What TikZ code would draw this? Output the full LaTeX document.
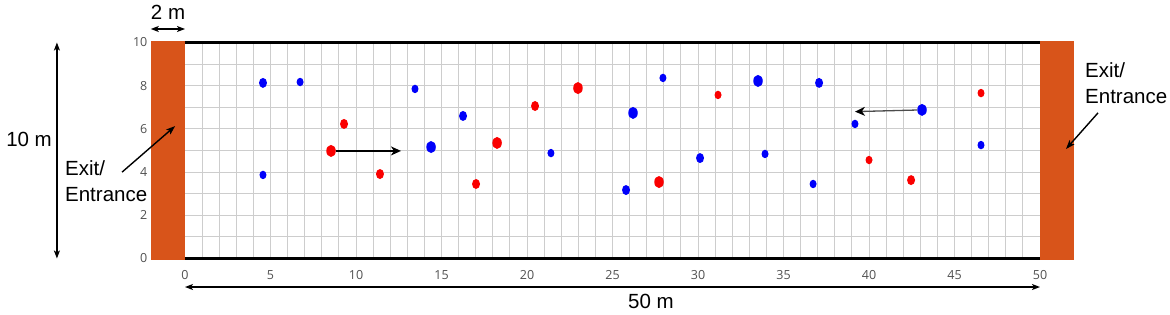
\documentclass[tikz,border=0pt]{standalone}
\usepackage{fontspec}
\setmainfont{Liberation Sans}
\newfontfamily\tickfont{Open Sans}
\usetikzlibrary{arrows.meta,shapes.geometric}
\definecolor{exitorange}{RGB}{216,84,26}
\definecolor{dotblue}{RGB}{0,0,250}
\definecolor{dotred}{RGB}{250,0,0}
\definecolor{gridgray}{RGB}{205,205,205}
\definecolor{ticklab}{RGB}{80,80,80}
\begin{document}
\begin{tikzpicture}[x=17.1pt,y=21.6pt,
  bdot/.style={ellipse,fill=dotblue,inner sep=0pt},
  rdot/.style={ellipse,fill=dotred,inner sep=0pt},
  sm/.style={minimum width=7pt,minimum height=8.5pt},
  md/.style={minimum width=8pt,minimum height=10pt},
  lg/.style={minimum width=9.5pt,minimum height=12pt},
  exitbar/.style={fill=exitorange,draw=none},
  border/.style={line width=3pt,black},
  ticky/.style={font=\tickfont\fontsize{12.5}{14}\selectfont,text=ticklab,inner sep=0pt},
  lbl/.style={font=\fontsize{20.5}{26}\selectfont,inner sep=0pt},
  dimarrow/.style={line width=1.4pt,{Stealth[length=8pt,width=6pt,inset=2pt]}-{Stealth[length=8pt,width=6pt,inset=2pt]}},
  ptarrow/.style={line width=1.4pt,-{Stealth[length=9pt,width=6.5pt,inset=2pt]}},
  movearrow/.style={line width=1.3pt,-{Stealth[length=10pt,width=9pt,inset=3pt]}},
  gmovearrow/.style={line width=1.3pt,draw=black!70,-{Stealth[length=10pt,width=9pt,inset=3pt,black]}}]
\useasboundingbox (-185pt,-55.5pt) rectangle (985pt,258.5pt);
% grid
\draw[gridgray,line width=1pt] (0,0) grid[xstep=1,ystep=1] (50,10);
% exits
\fill[exitbar] (-2,-0.05) rectangle (0,10.07);
\fill[exitbar] (50,-0.05) rectangle (52,10.07);
% borders
\draw[border] (0,10) -- (50,10);
\draw[border] (0,0) -- (50,0);
% tick labels
\foreach \v in {0,2,4,6,8,10}
  \node[ticky,anchor=east] (yt\v) at (-37.5pt,\v) {\v};
\foreach \v in {0,5,...,50}
  \node[ticky] (xt\v) at (\v,-0.78) {\v};
% dimensions
\coordinate (twoL) at (-2,10.625);
\coordinate (twoR) at (0,10.625);
\draw[dimarrow] (twoL) -- (twoR);
\node[lbl] (twom) at (-0.99,11.41) {2 m};
\coordinate (tenB) at (-7.49,0);
\coordinate (tenT) at (-7.49,10);
\draw[dimarrow] (tenB) -- (tenT);
\node[lbl] (tenm) at (-9.12,5.49) {10 m};
\coordinate (fiftyL) at (0,-1.32);
\coordinate (fiftyR) at (50,-1.32);
\draw[dimarrow] (fiftyL) -- (fiftyR);
\node[lbl] (fiftym) at (27.25,-1.97) {50 m};
% exit labels
\node[lbl,anchor=west,align=left] (exitL) at (-7.02,3.59) {Exit/\\Entrance};
\coordinate (exitLs) at (-3.68,4.0);
\coordinate (exitLe) at (-0.58,6.13);
\draw[ptarrow] (exitLs) -- (exitLe);
\node[lbl,anchor=west,align=left] (exitR) at (52.63,8.13) {Exit/\\Entrance};
\coordinate (exitRs) at (53.39,6.74);
\coordinate (exitRe) at (51.52,5.07);
\draw[ptarrow] (exitRs) -- (exitRe);
% blue pedestrians
\node[bdot,md] (b1) at (4.56,8.13) {};
\node[bdot,sm] (b2) at (6.73,8.17) {};
\node[bdot,sm] (b3) at (4.56,3.87) {};
\node[bdot,sm] (b4) at (13.45,7.85) {};
\node[bdot,md] (b5) at (16.26,6.60) {};
\node[bdot,lg] (b6) at (14.39,5.16) {};
\node[bdot,sm] (b7) at (21.40,4.88) {};
\node[bdot,sm] (b8) at (27.95,8.36) {};
\node[bdot,lg] (b9) at (26.20,6.74) {};
\node[bdot,md] (b10) at (25.79,3.17) {};
\node[bdot,md] (b11) at (30.12,4.65) {};
\node[bdot,lg] (b12) at (33.51,8.22) {};
\node[bdot,sm] (b13) at (33.92,4.84) {};
\node[bdot,md] (b14) at (37.08,8.13) {};
\node[bdot,sm] (b15) at (39.18,6.23) {};
\node[bdot,sm] (b16) at (36.73,3.45) {};
\node[bdot,lg] (b17) at (43.10,6.88) {};
\node[bdot,sm] (b18) at (46.55,5.25) {};
% red pedestrians
\node[rdot,md] (r1) at (9.30,6.23) {};
\node[rdot,lg] (r2) at (8.54,4.98) {};
\node[rdot,md] (r3) at (11.40,3.91) {};
\node[rdot,md] (r4) at (17.02,3.45) {};
\node[rdot,lg] (r5) at (18.25,5.35) {};
\node[rdot,md] (r6) at (20.47,7.06) {};
\node[rdot,lg] (r7) at (22.98,7.89) {};
\node[rdot,sm] (r8) at (31.17,7.57) {};
\node[rdot,lg] (r9) at (27.72,3.54) {};
\node[rdot,sm] (r10) at (40.00,4.56) {};
\node[rdot,sm] (r11) at (46.55,7.66) {};
\node[rdot,md] (r12) at (42.46,3.63) {};
% movement arrows
\coordinate (rgo) at (12.63,4.98);
\draw[movearrow] (r2) -- (rgo);
\coordinate (bgo) at (39.18,6.80);
\draw[gmovearrow] (b17) -- (bgo);
\end{tikzpicture}
\end{document}
